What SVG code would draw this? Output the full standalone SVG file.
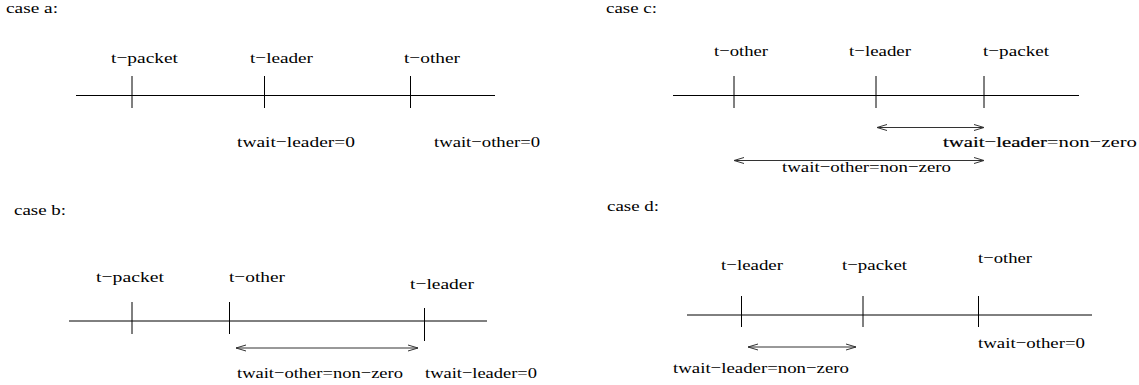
<svg xmlns="http://www.w3.org/2000/svg" width="1139" height="385" viewBox="0 0 1139 385">
  <style>
    text { font-family: "Liberation Serif", "Times New Roman", "DejaVu Serif", serif; font-size: 15.5px; fill: #000; }
    .axis { stroke: #000; stroke-width: 1; fill: none; }
    .tick { stroke: #000; stroke-width: 1; fill: none; }
    .span { stroke: #333; stroke-width: 1; fill: none; marker-start: url(#head); marker-end: url(#head); }
    .dark { stroke: #000; stroke-width: 0.2; }
  </style>
  <defs>
    <!-- open stick arrowhead, tip at the line end -->
    <marker id="head" viewBox="-11 -4 12 8" refX="0" refY="0" markerWidth="12" markerHeight="8" markerUnits="userSpaceOnUse" orient="auto-start-reverse">
      <path d="M-10,-3 L0,0 L-10,3" fill="none" stroke="#333" stroke-width="1"/>
    </marker>
  </defs>
  <rect width="1139" height="385" fill="#fff"/>

  <!-- case a: packet before leader before other -->
  <g id="case-a">
    <text x="6" y="13" textLength="52" lengthAdjust="spacingAndGlyphs">case a:</text>
    <line class="axis" x1="76" y1="95.5" x2="495" y2="95.5"/>
    <line class="tick" x1="132" y1="76" x2="132" y2="108"/>
    <line class="tick" x1="264.5" y1="76" x2="264.5" y2="108"/>
    <line class="tick" x1="410.5" y1="76" x2="410.5" y2="108"/>
    <text x="111" y="63" textLength="67" lengthAdjust="spacingAndGlyphs">t−packet</text>
    <text x="250" y="63" textLength="63" lengthAdjust="spacingAndGlyphs">t−leader</text>
    <text x="404" y="63" textLength="56" lengthAdjust="spacingAndGlyphs">t−other</text>
    <text x="237" y="147" textLength="118" lengthAdjust="spacingAndGlyphs">twait−leader=0</text>
    <text x="434" y="147" textLength="106" lengthAdjust="spacingAndGlyphs">twait−other=0</text>
  </g>

  <!-- case c: other before leader before packet -->
  <g id="case-c">
    <text x="606" y="13" textLength="51" lengthAdjust="spacingAndGlyphs">case c:</text>
    <line class="axis" x1="673" y1="95.5" x2="1079" y2="95.5"/>
    <line class="tick" x1="734" y1="76" x2="734" y2="108"/>
    <line class="tick" x1="876" y1="76" x2="876" y2="108"/>
    <line class="tick" x1="984" y1="76" x2="984" y2="108"/>
    <text x="714" y="56" textLength="54" lengthAdjust="spacingAndGlyphs">t−other</text>
    <text x="849" y="56" textLength="62" lengthAdjust="spacingAndGlyphs">t−leader</text>
    <text x="983" y="56" textLength="66" lengthAdjust="spacingAndGlyphs">t−packet</text>
    <text x="943" y="147" textLength="194" lengthAdjust="spacingAndGlyphs"><tspan class="dark">twait−leader</tspan>=non−zero</text>
    <text x="782" y="172" textLength="169" lengthAdjust="spacingAndGlyphs">twait−other=non−zero</text>
  </g>

  <!-- case b: packet before other before leader -->
  <g id="case-b">
    <text x="14" y="215" textLength="52" lengthAdjust="spacingAndGlyphs">case b:</text>
    <line class="axis" x1="69" y1="321" x2="487" y2="321"/>
    <line class="tick" x1="132" y1="302" x2="132" y2="334"/>
    <line class="tick" x1="229.5" y1="302" x2="229.5" y2="334"/>
    <line class="tick" x1="424.5" y1="308" x2="424.5" y2="341"/>
    <text x="96" y="282" textLength="68" lengthAdjust="spacingAndGlyphs">t−packet</text>
    <text x="229" y="282" textLength="56" lengthAdjust="spacingAndGlyphs">t−other</text>
    <text x="410" y="289" textLength="64" lengthAdjust="spacingAndGlyphs">t−leader</text>
    <text x="237" y="378" textLength="166" lengthAdjust="spacingAndGlyphs">twait−other=non−zero</text>
    <text x="425" y="378" textLength="112" lengthAdjust="spacingAndGlyphs">twait−leader=0</text>
  </g>

  <!-- case d: leader before packet before other -->
  <g id="case-d">
    <text x="607" y="211" textLength="52" lengthAdjust="spacingAndGlyphs">case d:</text>
    <line class="axis" x1="687" y1="315" x2="1092" y2="315"/>
    <line class="tick" x1="741.5" y1="296" x2="741.5" y2="327"/>
    <line class="tick" x1="863" y1="296" x2="863" y2="327"/>
    <line class="tick" x1="978.5" y1="296" x2="978.5" y2="327"/>
    <text x="721" y="270" textLength="62" lengthAdjust="spacingAndGlyphs">t−leader</text>
    <text x="842" y="270" textLength="65" lengthAdjust="spacingAndGlyphs">t−packet</text>
    <text x="978" y="263" textLength="54" lengthAdjust="spacingAndGlyphs">t−other</text>
    <text x="673" y="373" textLength="176" lengthAdjust="spacingAndGlyphs">twait−leader=non−zero</text>
    <text x="978" y="348" textLength="107" lengthAdjust="spacingAndGlyphs">twait−other=0</text>
  </g>

  <!-- waiting-time spans -->
  <g id="connectors">
    <line class="span" x1="877" y1="127.5" x2="984" y2="127.5"/>
    <line class="span" x1="734" y1="160.5" x2="984" y2="160.5"/>
    <line class="span" x1="236" y1="348" x2="418" y2="348"/>
    <line class="span" x1="748" y1="347" x2="856" y2="347"/>
  </g>
</svg>
